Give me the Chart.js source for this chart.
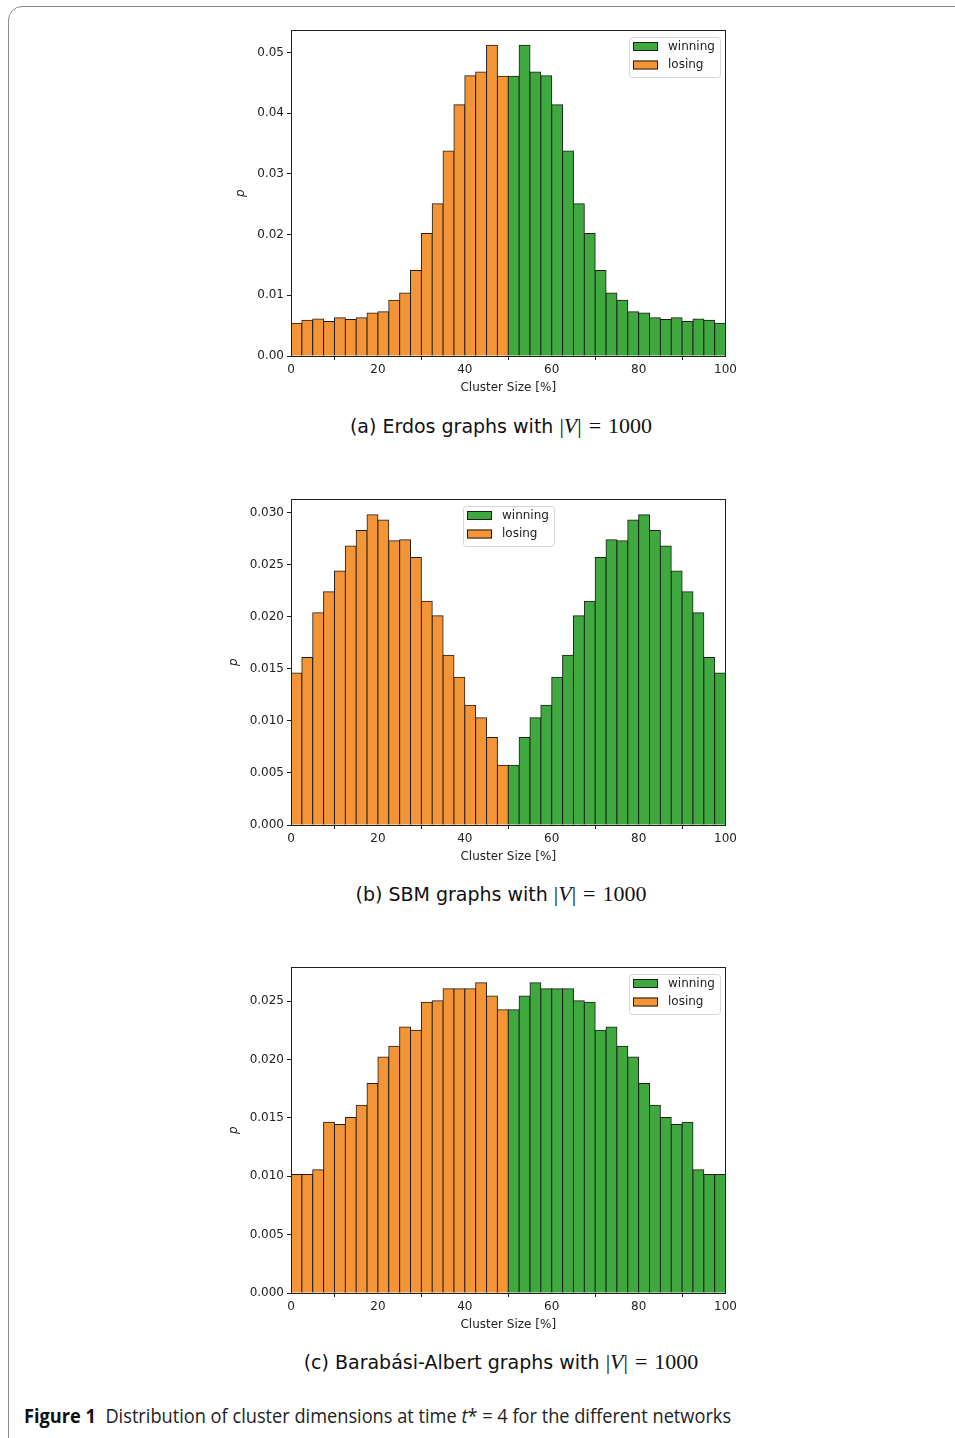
<!DOCTYPE html>
<html>
<head>
<meta charset="utf-8">
<script src="https://cdn.jsdelivr.net/npm/chart.js@4"></script>
<style>
  body { margin:0; width:955px; height:1438px; position:relative; overflow:hidden; background:#fff; font-family:"DejaVu Sans", sans-serif; }
  .frame { position:absolute; left:8px; top:6px; width:1000px; height:1500px; border:1px solid #8c8c8c; border-radius:14px; }
  .panel { position:absolute; height:380px; }
  .sub { position:absolute; left:0; width:1002px; text-align:center; font-size:19px; color:#111; line-height:22px; }
  .sub .m { font-family:"Liberation Serif", serif; font-size:22px; }
  .sub .eq { margin:0 7px; }
  .cap { position:absolute; left:24px; top:1402px; font-family:"Open Sans", sans-serif; font-size:20px; color:#222; white-space:nowrap; transform:scaleX(0.91); transform-origin:left center; }
  .cap b { font-weight:700; color:#111; }
</style>
</head>
<body>
<div class="frame"></div>

<div class="panel" style="top:20px; left:230px; width:510px"><canvas id="chart-erdos"></canvas></div>
<div class="sub" style="top:415px">(a) Erdos graphs with <span class="m">|<i>V</i>|<span class="eq">=</span>1000</span></div>

<div class="panel" style="top:489px; left:227px; width:513px"><canvas id="chart-sbm"></canvas></div>
<div class="sub" style="top:883px">(b) SBM graphs with <span class="m">|<i>V</i>|<span class="eq">=</span>1000</span></div>

<div class="panel" style="top:957px; left:227px; width:513px"><canvas id="chart-ba"></canvas></div>
<div class="sub" style="top:1351px">(c) Barabási-Albert graphs with <span class="m">|<i>V</i>|<span class="eq">=</span>1000</span></div>

<div class="cap"><b>Figure 1</b>&nbsp; Distribution of cluster dimensions at time <i>t</i>* = 4 for the different networks</div>

<script>
// bin centres (bins are 2.5% wide)
const losingBins  = [1.25, 3.75, 6.25, 8.75, 11.25, 13.75, 16.25, 18.75, 21.25, 23.75,
                     26.25, 28.75, 31.25, 33.75, 36.25, 38.75, 41.25, 43.75, 46.25, 48.75];
const winningBins = [51.25, 53.75, 56.25, 58.75, 61.25, 63.75, 66.25, 68.75, 71.25, 73.75,
                     76.25, 78.75, 81.25, 83.75, 86.25, 88.75, 91.25, 93.75, 96.25, 98.75];
const xTicks = [0, 20, 40, 60, 80, 100];

const erdosLosing  = [0.0054, 0.0059, 0.0061, 0.0057, 0.0063, 0.0060, 0.0063, 0.0071, 0.0073, 0.0092,
                      0.0104, 0.0141, 0.0202, 0.0251, 0.0338, 0.0414, 0.0462, 0.0468, 0.0512, 0.0461];
const erdosWinning = [0.0461, 0.0512, 0.0468, 0.0462, 0.0414, 0.0338, 0.0251, 0.0202, 0.0141, 0.0104,
                      0.0092, 0.0073, 0.0071, 0.0063, 0.0060, 0.0063, 0.0057, 0.0061, 0.0059, 0.0054];

const sbmLosing  = [0.0146, 0.0161, 0.0204, 0.0224, 0.0244, 0.0268, 0.0283, 0.0298, 0.0293, 0.0273,
                    0.0274, 0.0257, 0.0215, 0.0201, 0.0163, 0.0142, 0.0115, 0.0103, 0.0084, 0.00575];
const sbmWinning = [0.00575, 0.0084, 0.0103, 0.0115, 0.0142, 0.0163, 0.0201, 0.0215, 0.0257, 0.0274,
                    0.0273, 0.0293, 0.0298, 0.0283, 0.0268, 0.0244, 0.0224, 0.0204, 0.0161, 0.0146];

const baLosing  = [0.01015, 0.01015, 0.01055, 0.01462, 0.01442, 0.01502, 0.01608, 0.01793, 0.02021, 0.02112,
                   0.02278, 0.02249, 0.02489, 0.02503, 0.02606, 0.02606, 0.02606, 0.02657, 0.02543, 0.02426];
const baWinning = [0.02426, 0.02543, 0.02657, 0.02606, 0.02606, 0.02606, 0.02503, 0.02489, 0.02249, 0.02278,
                   0.02112, 0.02021, 0.01793, 0.01608, 0.01502, 0.01442, 0.01462, 0.01055, 0.01015, 0.01015];

const GREEN  = '#3fa83f';
const ORANGE = '#f39536';
const EDGE   = '#1e1e1e';
const TEXT   = '#222';

// axes frame + legend drawn inside the plot area, like matplotlib
const insideLegend = {
  id: 'insideLegend',
  afterDraw(chart, args, opts) {
    const { ctx, chartArea: a } = chart;
    ctx.save();
    ctx.strokeStyle = EDGE; ctx.lineWidth = 1;
    ctx.strokeRect(Math.round(a.left) + 0.5, Math.round(a.top) + 0.5, Math.round(a.width) - 1, Math.round(a.height));

    const w = 91, h = 40;
    const x = opts.align === 'center' ? Math.round((a.left + a.right) / 2 - w / 2) : Math.round(a.right - 6 - w);
    const y = Math.round(a.top + 7);
    ctx.fillStyle = 'rgba(255,255,255,0.85)';
    ctx.strokeStyle = '#d6d6d6';
    ctx.beginPath(); ctx.roundRect(x + 0.5, y + 0.5, w, h, 3); ctx.fill(); ctx.stroke();
    ctx.font = '12px "DejaVu Sans"'; ctx.textBaseline = 'middle';
    chart.data.datasets.forEach((ds, i) => {
      const sy = y + 5 + i * 18.5;
      ctx.fillStyle = ds.backgroundColor;
      ctx.fillRect(x + 4, sy, 25, 9);
      ctx.strokeStyle = EDGE;
      ctx.strokeRect(x + 4.5, sy + 0.5, 24, 8);
      ctx.fillStyle = TEXT;
      ctx.fillText(ds.label, x + 39, sy + 4.5);
    });
    ctx.restore();
  }
};

function toPoints(xs, ys) { return xs.map((x, i) => ({ x, y: ys[i] })); }

function makeChart(id, losing, winning, yMax, yStep, decimals, align, yWidth, titlePad) {
  const font = { family: '"DejaVu Sans"', size: 12 };
  return new Chart(document.getElementById(id), {
    type: 'bar',
    data: {
      datasets: [
        { label: 'winning', data: toPoints(winningBins, winning), backgroundColor: GREEN, borderColor: EDGE },
        { label: 'losing',  data: toPoints(losingBins, losing),   backgroundColor: ORANGE, borderColor: EDGE }
      ]
    },
    options: {
      responsive: true, maintainAspectRatio: false, animation: false,
      layout: { padding: { top: 10, right: 7, left: 0, bottom: 5 } },
      datasets: { bar: { grouped: false, barPercentage: 1, categoryPercentage: 1, borderWidth: 1, inflateAmount: 0.5 } },
      plugins: { legend: { display: false }, tooltip: { enabled: false }, insideLegend: { align } },
      scales: {
        x: {
          type: 'linear', min: 0, max: 100, offset: false,
          afterBuildTicks: s => { s.ticks = xTicks.map(v => ({ value: v })); },
          ticks: { font, color: TEXT, padding: 3, maxRotation: 0 },
          grid: { drawOnChartArea: false, drawTicks: true, tickLength: 4, color: EDGE },
          border: { display: false },
          title: { display: true, text: 'Cluster Size [%]', font, color: TEXT, padding: { top: 0, bottom: 0 } },
          afterFit: s => { s.height = 39; }
        },
        y: {
          min: 0, max: yMax,
          ticks: { stepSize: yStep, includeBounds: false, font, color: TEXT, padding: 3, callback: v => v.toFixed(decimals) },
          grid: { drawOnChartArea: false, drawTicks: true, tickLength: 4, color: EDGE },
          border: { display: false },
          title: { display: true, text: 'p', font: { family: '"DejaVu Sans"', size: 12, style: 'italic' }, color: TEXT, padding: { top: titlePad, bottom: 0 } },
          afterFit: s => { s.width = yWidth; }
        }
      }
    },
    plugins: [insideLegend]
  });
}

makeChart('chart-erdos', erdosLosing, erdosWinning, 0.0537, 0.01, 2, 'right', 61, 4);
makeChart('chart-sbm', sbmLosing, sbmWinning, 0.0313, 0.005, 3, 'center', 64, 0);
makeChart('chart-ba', baLosing, baWinning, 0.0279, 0.005, 3, 'right', 64, 0);
</script>
</body>
</html>
